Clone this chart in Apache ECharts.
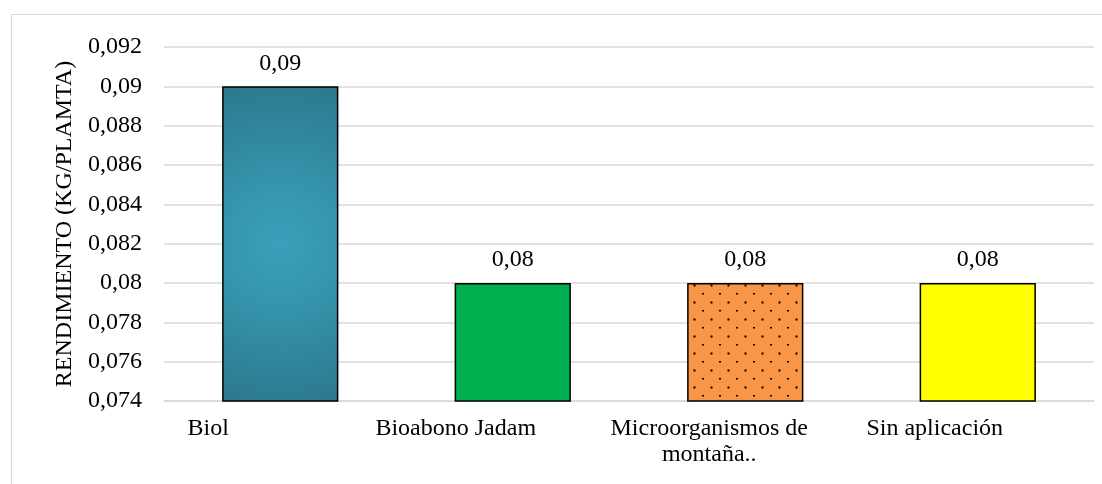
<!DOCTYPE html>
<html>
<head>
<meta charset="utf-8">
<script src="https://cdn.jsdelivr.net/npm/echarts@6/dist/echarts.min.js"></script>
<style>
  html, body { margin: 0; padding: 0; background: #fff; }
  #frame { position: absolute; left: 11px; top: 14px; width: 1200px; height: 600px; border: 1.5px solid #d9d9d9; box-sizing: border-box; }
  #main { position: absolute; left: 0; top: 0; width: 1102px; height: 484px; }
</style>
</head>
<body>
<div id="frame"></div>
<div id="main"></div>
<script>
// datos del grafico
var categorias = ['Biol', 'Bioabono Jadam', 'Microorganismos de\nmontaña..', 'Sin aplicación'];
var rendimiento = [0.09, 0.08, 0.08, 0.08];
var ejeY = { min: 0.074, max: 0.092, paso: 0.002 };
var tituloY = 'RENDIMIENTO (KG/PLAMTA)';

// desplazamiento de las etiquetas del eje x (como en excel)
var corrimiento = [72, 57, 36, 43];

var fuente = 'Liberation Serif, Times New Roman, serif';
var tam = 24;

function coma(v) {
    return parseFloat(v.toFixed(3)).toString().replace('.', ',');
}

// trama de puntos para la tercera barra
var trama = document.createElement('canvas');
trama.width = 17;
trama.height = 17;
var ctx = trama.getContext('2d');
ctx.fillStyle = '#f79646';
ctx.fillRect(0, 0, 17, 17);
ctx.fillStyle = '#000';
ctx.fillRect(5, 4, 2, 1.5);
ctx.fillRect(13.5, 12.5, 2, 2);

var rellenos = [
    {
        type: 'radial', x: 0.5, y: 0.5, r: 1.45,
        colorStops: [{ offset: 0, color: '#3aa1ba' }, { offset: 0.35, color: '#3595ad' }, { offset: 1, color: '#2c788d' }]
    },
    '#00b050',
    { image: trama, repeat: 'repeat' },
    '#ffff00'
];

var ricos = {};
categorias.forEach(function (c, i) {
    ricos['e' + i] = { fontFamily: fuente, fontSize: tam, color: '#000', lineHeight: 26, padding: [0, corrimiento[i] * 2, 0, 0] };
});

var myChart = echarts.init(document.getElementById('main'));
myChart.setOption({
    animation: false,
    grid: { left: 164, right: 8, top: 47, bottom: 83 },
    xAxis: {
        type: 'category',
        data: categorias,
        axisTick: { show: false },
        axisLine: { lineStyle: { color: '#d9d9d9', width: 1.5 } },
        axisLabel: {
            margin: 15,
            interval: 0,
            formatter: function (v, i) {
                return v.split('\n').map(function (l) { return '{e' + i + '|' + l + '}'; }).join('\n');
            },
            rich: ricos
        }
    },
    yAxis: {
        type: 'value',
        min: ejeY.min,
        max: ejeY.max,
        interval: ejeY.paso,
        name: tituloY,
        nameLocation: 'middle',
        nameGap: 56,
        nameTextStyle: { fontFamily: fuente, fontSize: tam, color: '#000' },
        axisLine: { show: false },
        axisTick: { show: false },
        splitLine: { lineStyle: { color: '#d9d9d9', width: 1.5 } },
        axisLabel: {
            margin: 22,
            fontFamily: fuente,
            fontSize: tam,
            color: '#000',
            formatter: coma
        }
    },
    series: [{
        type: 'bar',
        barWidth: '50%',
        data: rendimiento.map(function (v, i) {
            return { value: v, itemStyle: { color: rellenos[i] } };
        }),
        itemStyle: { borderColor: '#000', borderWidth: 1.5 },
        label: {
            show: true,
            position: 'top',
            distance: 11,
            fontFamily: fuente,
            fontSize: tam,
            color: '#000',
            formatter: function (p) { return coma(p.value); }
        }
    }]
});
</script>
</body>
</html>
